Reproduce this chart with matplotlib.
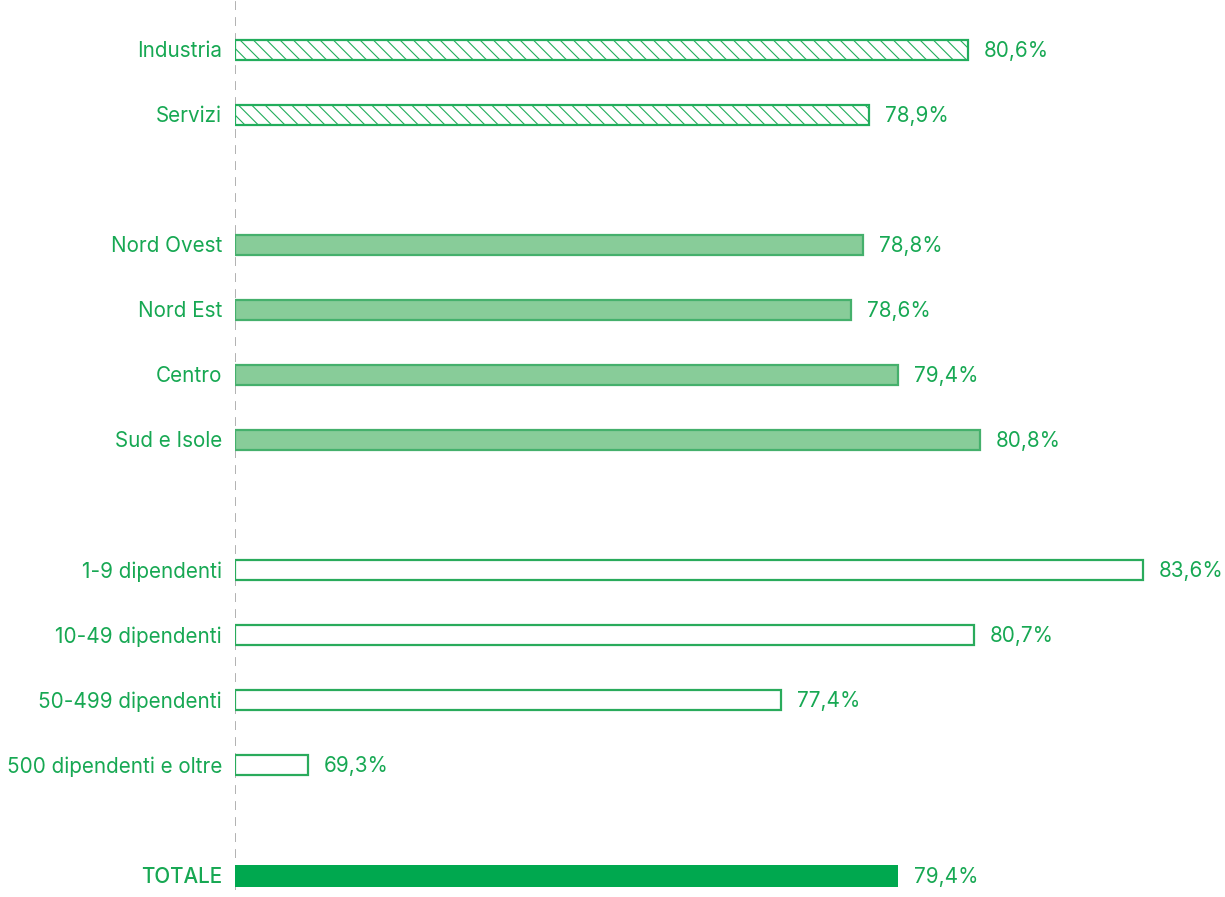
import numpy as np
import matplotlib
matplotlib.use('Agg')
import matplotlib.pyplot as plt

# dati
settori = ['Industria', 'Servizi']
valori_settori = [80.6, 78.9]
aree = ['Nord Ovest', 'Nord Est', 'Centro', 'Sud e Isole']
valori_aree = [78.8, 78.6, 79.4, 80.8]
classi = ['1-9 dipendenti', '10-49 dipendenti', '50-499 dipendenti', '500 dipendenti e oltre']
valori_classi = [83.6, 80.7, 77.4, 69.3]
totale_label = 'TOTALE'
totale = 79.4

VERDE = '#17a853'
VERDE_SCURO = '#00a84f'
FILL_AREE = '#88cc99'
EDGE_AREE = '#45b06c'

DPI = 160
plt.rcParams['font.family'] = ['Inter', 'DejaVu Sans']
plt.rcParams['hatch.color'] = '#22ad5c'
plt.rcParams['hatch.linewidth'] = 0.5

fig = plt.figure(figsize=(1225 / DPI, 897 / DPI), dpi=DPI)
ax = fig.add_axes([235 / 1225, 7 / 897, 990 / 1225, 890 / 897])

xmin = 68.05
px_per_unit = 58.4
ax.set_xlim(xmin, xmin + 990 / px_per_unit)
ax.set_ylim(12.92, -0.77)

h = 0.31
y_sett = [0, 1]
y_aree = [3, 4, 5, 6]
y_classi = [8, 9, 10, 11]
y_tot = 12.7

def fmt(v):
    return f'{v:.1f}'.replace('.', ',') + '%'

ax.barh(y_sett, [v - xmin for v in valori_settori], left=xmin, height=h,
        color='white', edgecolor='#22ad5c', linewidth=1.0, hatch='\\\\\\\\')
ax.barh(y_aree, [v - xmin for v in valori_aree], left=xmin, height=h,
        color=FILL_AREE, edgecolor=EDGE_AREE, linewidth=1.0)
ax.barh(y_classi, [v - xmin for v in valori_classi], left=xmin, height=h,
        color='white', edgecolor='#2aab5c', linewidth=1.0)
ax.barh([y_tot], [totale - xmin], left=xmin, height=h + 0.03,
        color=VERDE_SCURO, edgecolor=VERDE_SCURO, linewidth=0)

ax.axvline(xmin, color='#aaaaaa', linewidth=0.8, dashes=(5, 4), zorder=0)

labels = settori + aree + classi + [totale_label]
valori = valori_settori + valori_aree + valori_classi + [totale]
ys = y_sett + y_aree + y_classi + [y_tot]
off = 16 / px_per_unit
for lab, v, y in zip(labels, valori, ys):
    peso = 'medium' if lab == totale_label else 'normal'
    ax.text(xmin - 13 / px_per_unit, y + 0.02, lab, ha='right', va='center',
            fontsize=9.3, color=VERDE, fontweight=peso, clip_on=False)
    ax.text(v + off, y + 0.02, fmt(v), ha='left', va='center',
            fontsize=9.3, color=VERDE, clip_on=False)

ax.axis('off')
fig.savefig('out.png', dpi=DPI)
